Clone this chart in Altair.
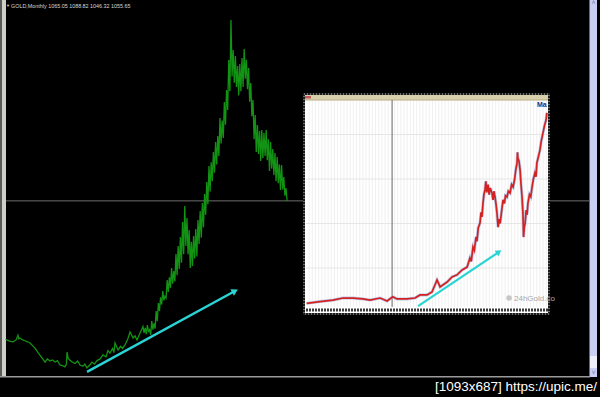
import altair as alt
import pandas as pd

# ---------------- data ----------------
# Main chart: GOLD monthly (decimal year, USD) - 1994..2004
early_year = [1994.60, 1994.68, 1994.90, 1995.16, 1995.40, 1995.53, 1995.60, 1995.68, 1995.85, 1996.06,
              1996.25, 1996.44, 1996.62, 1996.82, 1997.05, 1997.35, 1997.58, 1997.75, 1997.96, 1998.15,
              1998.34, 1998.52, 1998.71, 1998.90, 1999.09, 1999.20, 1999.25, 1999.32, 1999.45, 1999.63,
              1999.85, 2000.05, 2000.23, 2000.45, 2000.60, 2000.76, 2000.95, 2001.14, 2001.32, 2001.52,
              2001.75, 2001.97, 2002.20, 2002.35, 2002.50, 2002.70, 2002.80, 2002.88, 2003.11, 2003.30,
              2003.45, 2003.64, 2003.85, 2004.02, 2004.25, 2004.40, 2004.55, 2004.75, 2004.90]
early_price = [395, 391, 385, 382, 392, 414, 396, 400, 392, 387,
               382, 376, 365, 352, 330, 305, 285, 300, 290, 295,
               285, 292, 271, 268, 262, 275, 333, 305, 295, 285,
               278, 290, 271, 265, 275, 257, 270, 285, 275, 292,
               300, 319, 310, 340, 328, 350, 330, 376, 343, 360,
               350, 367, 395, 429, 400, 410, 391, 420, 440]
# 2005..2015 monthly swings (high / low alternating)
late_year = [2005 + k / 12 for k in range(132)]
late_price = [455, 425, 448, 418, 462, 432, 440, 415, 481, 440,
              470, 445, 529, 480, 567, 530, 595, 560, 625, 580,
              600, 591, 677, 620, 690, 640, 735, 660, 720, 670,
              802, 700, 840, 730, 883, 760, 955, 800, 1031, 840,
              974, 800, 916, 735, 860, 745, 888, 780, 921, 790,
              964, 850, 1007, 880, 1045, 930, 1088, 990, 1146, 1040,
              1222, 1100, 1240, 1150, 1289, 1190, 1337, 1230, 1366, 1270,
              1452, 1330, 1440, 1356, 1528, 1420, 1586, 1490, 1729, 1580,
              1920, 1650, 1777, 1620, 1748, 1600, 1700, 1560, 1710, 1580,
              1739, 1600, 1782, 1640, 1730, 1590, 1691, 1530, 1619, 1460,
              1538, 1350, 1466, 1290, 1418, 1280, 1390, 1246, 1394, 1260,
              1380, 1270, 1394, 1250, 1350, 1198, 1337, 1210, 1304, 1180,
              1284, 1150, 1265, 1140, 1230, 1108, 1227, 1110, 1170, 1080,
              1117, 1055]
gold_year = early_year + late_year
gold_price = early_price + late_price

# Inset: long-term chart (year, value)
inset_year = [1900.3, 1906.4, 1912.4, 1917.0, 1921.6, 1926.1, 1929.4, 1934.0, 1937.2, 1939.8,
              1941.7, 1946.3, 1950.0, 1952.3, 1955.5, 1957.8, 1960.1, 1961.5, 1964.7, 1967.0,
              1969.3, 1971.6, 1973.9, 1975.2, 1975.8, 1976.6, 1977.2, 1978.0, 1978.4, 1979.0,
              1979.8, 1980.3, 1980.7, 1981.2, 1981.6, 1982.1, 1982.5, 1982.9, 1983.5, 1984.0,
              1984.5, 1985.3, 1985.8, 1986.2, 1986.7, 1987.1, 1987.6, 1988.1, 1988.6, 1989.0,
              1989.4, 1989.9, 1990.4, 1991.0, 1991.5, 1992.2, 1992.8, 1993.6, 1994.3, 1995.0,
              1995.7, 1996.2, 1996.8, 1997.0, 1997.2, 1997.7, 1998.2, 1998.6, 1999.1, 1999.5,
              1999.8, 2000.1, 2000.5, 2001.0, 2001.4, 2001.8, 2002.5, 2003.1, 2003.7, 2004.3,
              2005.0, 2005.5, 2005.9, 2006.6, 2007.3, 2007.9, 2008.7, 2009.4, 2010.1, 2010.5]
inset_value = [41, 49, 56, 65, 65, 61, 56, 65, 52, 71,
               61, 61, 65, 79, 79, 92, 146, 115, 137, 160,
               169, 191, 204, 245, 230, 294, 280, 340, 320, 380,
               402, 450, 430, 492, 530, 551, 590, 540, 575, 530,
               560, 537, 506, 545, 520, 490, 447, 384, 420, 400,
               429, 470, 506, 490, 525, 519, 545, 537, 575, 564,
               600, 640, 672, 720, 694, 680, 640, 580, 519, 447,
               339, 380, 402, 460, 440, 492, 530, 520, 564, 600,
               627, 610, 672, 700, 730, 770, 807, 840, 865, 897]

header_text = "GOLD,Monthly  1065.05 1088.82 1046.32 1055.65"
last_price = [1055.65]
footer_text = "[1093x687] https://upic.me/"
main_arrow_year = [2000.76, 2011.97]
main_arrow_price = [238, 625]
inset_arrow_year = [1951.4, 1988.5]
inset_arrow_value = [29, 272]
inset_marker_year = [1939.5]
inset_hgrid = [200, 400, 600, 800]

# ---------------- scales ----------------
MX = alt.Scale(domain=[1994.17, 2039.62], range=[0, 600], nice=False, zero=False)
MY = alt.Scale(domain=[118, 2016], range=[397, 0], nice=False, zero=False)
IX = alt.Scale(domain=[1900, 2011], range=[306, 548], nice=False, zero=False)
IY = alt.Scale(domain=[0, 1000], range=[312.5, 90], nice=False, zero=False)

dummy = pd.DataFrame({"k": [0]})
gold = pd.DataFrame({"year": gold_year, "price": gold_price})
inset = pd.DataFrame({"year": inset_year, "value": inset_value})
marr = pd.DataFrame({"year": main_arrow_year, "price": main_arrow_price})
iarr = pd.DataFrame({"year": inset_arrow_year, "value": inset_arrow_value})
vgrid = pd.DataFrame({"g": [1900 + 1.45 * i for i in range(1, 77)]})


def box(x1, x2, y1, y2, **kw):
    return alt.Chart(dummy).mark_rect(**kw).encode(
        x=alt.value(x1), x2=alt.value(x2), y=alt.value(y1), y2=alt.value(y2))


def txt(x, y, s, **kw):
    return alt.Chart(dummy).mark_text(text=s, **kw).encode(x=alt.value(x), y=alt.value(y))


layers = []
# left frame strips
layers.append(box(0, 2, 0, 377, color="#5a5a5a"))
layers.append(box(2, 6, 0, 377, color="#cfcfc8"))
# current price line
layers.append(alt.Chart(pd.DataFrame({"p": last_price})).mark_rule(color="#6e6e6e", strokeWidth=1).encode(
    y=alt.Y("p:Q", scale=MY, axis=None), x=alt.value(6), x2=alt.value(590)))
# green price series
layers.append(alt.Chart(gold).mark_line(color="#139313", strokeWidth=1.3, strokeJoin="miter").encode(
    x=alt.X("year:Q", scale=MX, axis=None), y=alt.Y("price:Q", scale=MY, axis=None)))
# cyan arrow main
layers.append(alt.Chart(marr).mark_line(color="#2ad4d4", strokeWidth=2.4).encode(
    x=alt.X("year:Q", scale=MX, axis=None), y=alt.Y("price:Q", scale=MY, axis=None)))
layers.append(alt.Chart(marr.iloc[[1]]).mark_point(shape="triangle-up", filled=True, size=55, angle=61,
                                                    color="#2ad4d4", opacity=1).encode(
    x=alt.X("year:Q", scale=MX, axis=None), y=alt.Y("price:Q", scale=MY, axis=None)))

# inset frame
layers.append(box(303, 550, 93, 315, color="#1a1a1a"))
layers.append(box(305, 548, 95, 313, color="#ffffff"))
layers.append(box(304, 549, 94, 314, fill=None, stroke="#bdbdbd", strokeDash=[1, 2], strokeWidth=1))
# inset grid
layers.append(alt.Chart(vgrid).mark_rule(color="#ececec", strokeWidth=0.8).encode(
    x=alt.X("g:Q", scale=IX, axis=None), y=alt.value(100), y2=alt.value(307)))
layers.append(alt.Chart(pd.DataFrame({"h": inset_hgrid})).mark_rule(color="#e6e6e6", strokeWidth=1).encode(
    y=alt.Y("h:Q", scale=IY, axis=None), x=alt.value(306), x2=alt.value(548)))
# top band
layers.append(box(305, 548, 95, 100, color="#d8d0ac"))
layers.append(box(305, 548, 99.5, 100.5, color="#b9ae82"))
layers.append(box(305, 311, 96, 98.5, color="#c25a5a"))
# vertical marker line
layers.append(alt.Chart(pd.DataFrame({"m": inset_marker_year})).mark_rule(color="#6a6a6a", strokeWidth=1).encode(
    x=alt.X("m:Q", scale=IX, axis=None), y=alt.value(100), y2=alt.value(308)))
# bottom tick-label strip
layers.append(box(305, 548, 307, 313, color="#ffffff"))
layers.append(alt.Chart(dummy).mark_rule(color="#3a3a3a", strokeWidth=3, strokeDash=[2, 1]).encode(
    x=alt.value(306), x2=alt.value(548), y=alt.value(310)))
# watermark
layers.append(alt.Chart(dummy).mark_point(shape="circle", filled=True, size=30, color="#b0b0b0").encode(
    x=alt.value(509), y=alt.value(298)))
layers.append(txt(514, 298.5, "24hGold.co", color="#a8a8a8", fontSize=8, align="left", baseline="middle",
                  font="Liberation Sans"))
# red series (with faint blue underlay)
layers.append(alt.Chart(inset).mark_line(color="#8fa8d8", strokeWidth=3, opacity=0.6).encode(
    x=alt.X("year:Q", scale=IX, axis=None), y=alt.Y("value:Q", scale=IY, axis=None)))
layers.append(alt.Chart(inset).mark_line(color="#d42222", strokeWidth=1.7).encode(
    x=alt.X("year:Q", scale=IX, axis=None), y=alt.Y("value:Q", scale=IY, axis=None)))
# inset cyan arrow
layers.append(alt.Chart(iarr).mark_line(color="#2ad4d4", strokeWidth=2.2).encode(
    x=alt.X("year:Q", scale=IX, axis=None), y=alt.Y("value:Q", scale=IY, axis=None)))
layers.append(alt.Chart(iarr.iloc[[1]]).mark_point(shape="triangle-up", filled=True, size=45, angle=56,
                                                    color="#2ad4d4", opacity=1).encode(
    x=alt.X("year:Q", scale=IX, axis=None), y=alt.Y("value:Q", scale=IY, axis=None)))
layers.append(txt(537, 105, "Ma", color="#2a2a7a", fontSize=7, fontWeight="bold", align="left",
                  baseline="middle", font="Liberation Sans"))

# scrollbar
layers.append(box(589, 590, 0, 377, color="#6a6a6a"))
layers.append(box(590, 597, 0, 377, color="#c9cff2"))
layers.append(box(590, 597, 356, 368, color="#eceefa"))
layers.append(txt(593.5, 3, "\u02c4", color="#6f7ab0", fontSize=7, baseline="middle"))
layers.append(txt(593.5, 373, "\u02c5", color="#6f7ab0", fontSize=7, baseline="middle"))
# bottom line
layers.append(box(0, 590, 376, 377.5, color="#9a9a9a"))
# header and footer
layers.append(txt(6, 5.5, "\u25bc", color="#d8d8d8", fontSize=4, align="left", baseline="middle"))
layers.append(txt(11, 5.5, header_text, color="#d8d8d8", fontSize=5.4, align="left", baseline="middle",
                  font="Liberation Sans"))
layers.append(txt(597, 387, footer_text, color="#ffffff", fontSize=13.5, align="right", baseline="middle",
                  font="Liberation Sans Narrow, Liberation Sans"))

chart = alt.layer(*layers).resolve_scale(x="independent", y="independent").properties(
    width=600, height=397, padding=0, autosize=alt.AutoSizeParams(type="none"),
    background="#000000"
).configure_view(stroke=None)

chart.save("out.html", embed_options={"renderer": "svg", "actions": False})
